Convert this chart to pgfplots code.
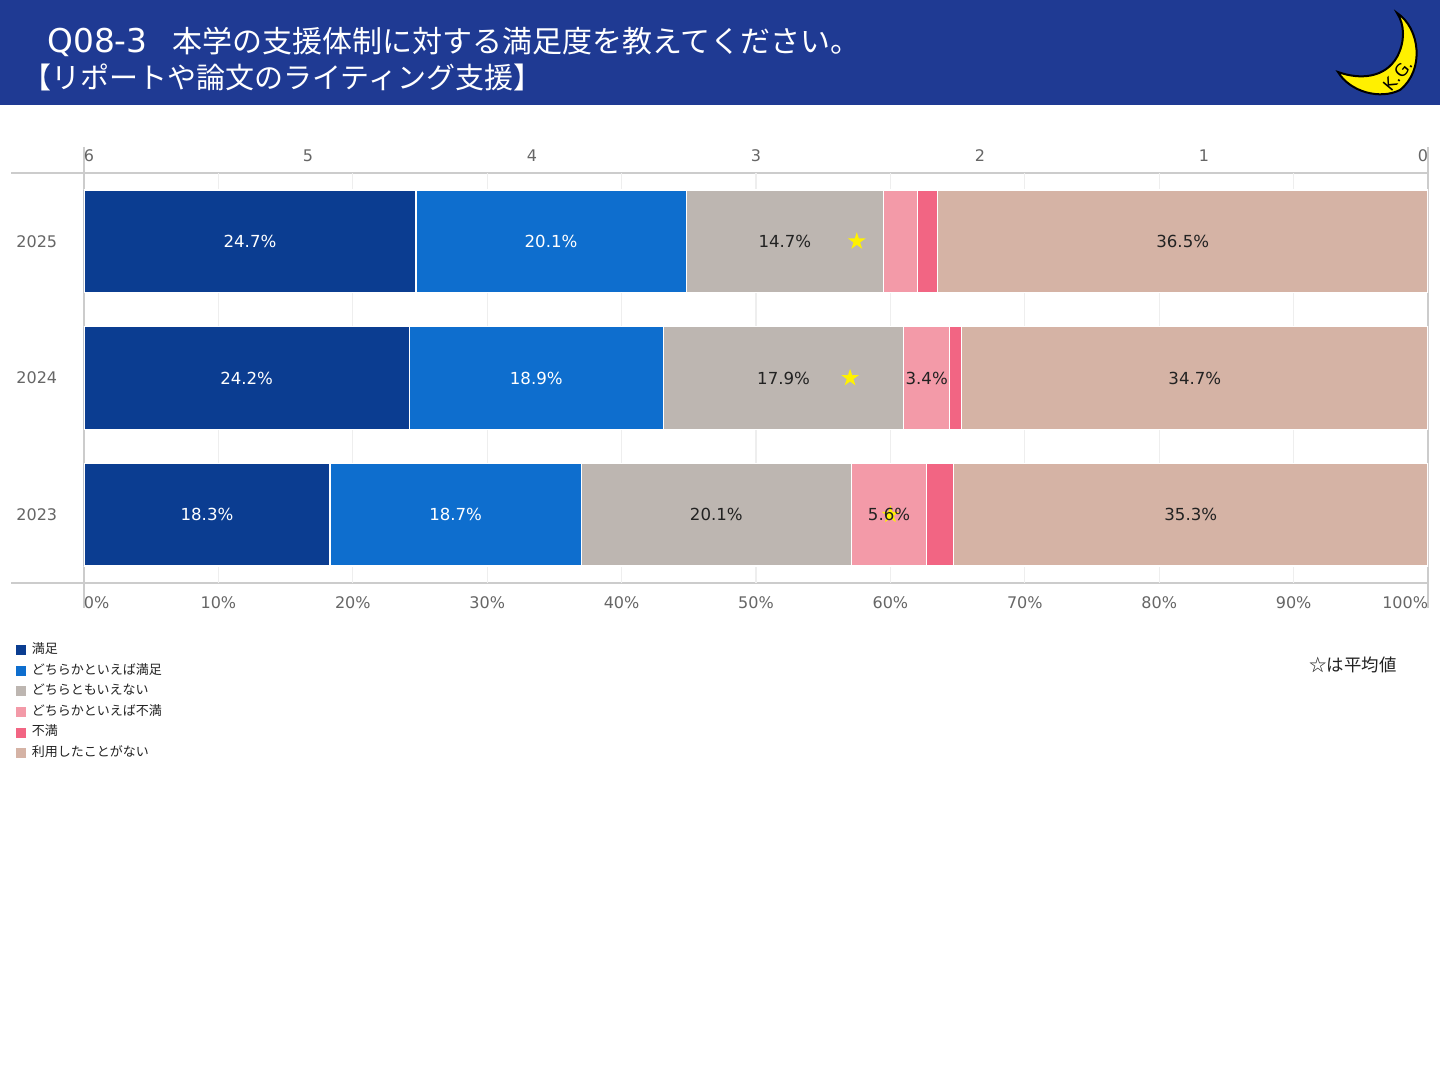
\documentclass[border=0pt]{standalone}
\usepackage{pgfplots}
\pgfplotsset{compat=1.18}
\usepackage{pgfplotstable}
\usepackage{fontspec}
\setmainfont{DejaVu Sans}
\newfontfamily\cjk{Noto Sans CJK JP}
\newfontfamily\dv{DejaVu Sans}

\definecolor{band}{HTML}{1F3A93}
\definecolor{c1}{HTML}{0B3D91}
\definecolor{c2}{HTML}{0E6ECE}
\definecolor{c3}{HTML}{BDB6B1}
\definecolor{c4}{HTML}{F39AA8}
\definecolor{c5}{HTML}{F26583}
\definecolor{c6}{HTML}{D5B3A5}
\definecolor{framegray}{HTML}{CCCCCC}
\definecolor{gridgray}{HTML}{EEEEEE}
\definecolor{ticktext}{HTML}{666666}
\definecolor{darktext}{HTML}{222222}
\definecolor{moonY}{HTML}{FFF000}
\definecolor{starY}{HTML}{FFF200}

\pgfdeclareplotmark{fstar}{%
 \pgfpathmoveto{\pgfpoint{0pt}{\pgfplotmarksize}}%
 \pgfpathlineto{\pgfpoint{0.2245\pgfplotmarksize}{0.309\pgfplotmarksize}}%
 \pgfpathlineto{\pgfpoint{0.951\pgfplotmarksize}{0.309\pgfplotmarksize}}%
 \pgfpathlineto{\pgfpoint{0.363\pgfplotmarksize}{-0.118\pgfplotmarksize}}%
 \pgfpathlineto{\pgfpoint{0.588\pgfplotmarksize}{-0.809\pgfplotmarksize}}%
 \pgfpathlineto{\pgfpoint{0pt}{-0.382\pgfplotmarksize}}%
 \pgfpathlineto{\pgfpoint{-0.588\pgfplotmarksize}{-0.809\pgfplotmarksize}}%
 \pgfpathlineto{\pgfpoint{-0.363\pgfplotmarksize}{-0.118\pgfplotmarksize}}%
 \pgfpathlineto{\pgfpoint{-0.951\pgfplotmarksize}{0.309\pgfplotmarksize}}%
 \pgfpathlineto{\pgfpoint{-0.2245\pgfplotmarksize}{0.309\pgfplotmarksize}}%
 \pgfpathclose\pgfusepathqfill}

% year index: 0=2023, 1=2024, 2=2025
\pgfplotstableread{
y s1 s2 s3 s4 s5 s6
0 18.3 18.7 20.1 5.6 2.0 35.3
1 24.2 18.9 17.9 3.4 0.9 34.7
2 24.7 20.1 14.7 2.5 1.5 36.5
}\shares

% average values (scale 6..0)
\pgfplotstableread{
y avg
0 2.40
1 2.58
2 2.55
}\averages

% label positions (segment mid points) for white labels
\pgfplotstableread{
x y v
12.35 2 24.7
34.75 2 20.1
12.10 1 24.2
33.65 1 18.9
9.15 0 18.3
27.65 0 18.7
}\labwhite

\pgfplotstableread{
x y v
52.15 2 14.7
81.75 2 36.5
52.05 1 17.9
62.70 1 3.4
82.65 1 34.7
47.05 0 20.1
59.90 0 5.6
82.35 0 35.3
}\labdark

\begin{document}
\begin{tikzpicture}
\begin{scope}[x=0.5pt,y=-0.5pt]
\fill[white] (0,0) rectangle (1440,1080);
\fill[band] (0,0) rectangle (1440,105);
\node[anchor=base west,inner sep=0pt,text=white,font=\dv\fontsize{16.4}{19}\selectfont] at (47,53) {Q08-3};
\node[anchor=base west,inner sep=0pt,text=white,font=\cjk\fontsize{15}{17}\selectfont] at (172,53) {本学の支援体制に対する満足度を教えてください。};
\node[anchor=base west,inner sep=0pt,text=white,font=\cjk\fontsize{14.5}{17}\selectfont] at (22,89) {【リポートや論文のライティング支援】};
% logo
\filldraw[fill=moonY,draw=black,line width=1pt] (1397,13) .. controls (1420,28) and (1425,70) .. (1400,90) .. controls (1380,100) and (1350,92) .. (1338,72) .. controls (1360,80) and (1385,78) .. (1397,57) .. controls (1405,42) and (1405,25) .. (1397,13) -- cycle;
\node[rotate=50,inner sep=0pt,font=\dv\fontsize{8.5}{10}\selectfont] at (1398,75) {K.G.};
% frame lines
\draw[framegray,line width=0.6pt] (11,173) -- (1428,173);
\draw[framegray,line width=0.6pt] (11,583) -- (1428,583);
\draw[framegray,line width=0.6pt] (84,147) -- (84,608);
\draw[framegray,line width=0.6pt] (1428,147) -- (1428,608);
\node[anchor=west,inner sep=0pt,text=darktext,font=\cjk\fontsize{8.7}{10}\selectfont] at (1309,665) {☆は平均値};
\end{scope}

\begin{axis}[
 at={(42pt,-291.5pt)}, anchor=south west,
 scale only axis, width=672pt, height=205pt,
 xbar stacked, bar width=0.75,
 xmin=0, xmax=100, ymin=-0.5, ymax=2.5,
 axis line style={draw=none},
 xtick={0,10,...,100},
 xticklabels={\makebox[0pt][l]{0\%},10\%,20\%,30\%,40\%,50\%,60\%,70\%,80\%,90\%,\makebox[0pt][r]{100\%}},
 minor xtick={10,20,...,90},
 xminorgrids, minor grid style={color=gridgray,line width=0.6pt},
 major tick length=0pt, minor tick length=0pt,
 ytick={0,1,2}, yticklabels={2023,2024,2025},
 tick label style={font=\dv\fontsize{8}{9.6}\selectfont, text=ticktext},
 xticklabel style={yshift=-3.5pt},
 yticklabel style={anchor=west, inner sep=0pt, xshift=-34pt},
 legend image code/.code={\fill[#1,draw=none] (0pt,-2.5pt) rectangle (5pt,2.5pt);},
 legend cell align=left,
 legend style={at={(-0.0506,-0.139)}, anchor=north west, draw=none, fill=none,
   inner sep=0pt, outer sep=0pt, row sep=0pt,
   font=\cjk\fontsize{6.5}{7.8}\selectfont, text=darktext,
   nodes={inner sep=0pt, text height=6.8pt, text depth=3.5pt},
   /tikz/every odd column/.append style={column sep=3pt}},
]
\addplot[fill=c1,draw=white,line width=0.6pt] table[x=s1,y=y] {\shares};
\addlegendentry{満足}
\addplot[fill=c2,draw=white,line width=0.6pt] table[x=s2,y=y] {\shares};
\addlegendentry{どちらかといえば満足}
\addplot[fill=c3,draw=white,line width=0.6pt] table[x=s3,y=y] {\shares};
\addlegendentry{どちらともいえない}
\addplot[fill=c4,draw=white,line width=0.6pt] table[x=s4,y=y] {\shares};
\addlegendentry{どちらかといえば不満}
\addplot[fill=c5,draw=white,line width=0.6pt] table[x=s5,y=y] {\shares};
\addlegendentry{不満}
\addplot[fill=c6,draw=white,line width=0.6pt] table[x=s6,y=y] {\shares};
\addlegendentry{利用したことがない}
\end{axis}

\begin{axis}[
 at={(42pt,-291.5pt)}, anchor=south west,
 scale only axis, width=672pt, height=205pt,
 xmin=0, xmax=6, x dir=reverse, ymin=-0.5, ymax=2.5,
 axis line style={draw=none},
 xticklabel pos=upper, ytick=\empty,
 xtick={0,1,2,3,4,5,6},
 xticklabels={\makebox[0pt][r]{0},1,2,3,4,5,\makebox[0pt][l]{6}},
 major tick length=0pt,
 tick label style={font=\dv\fontsize{8}{9.6}\selectfont, text=ticktext},
 xticklabel style={yshift=2.3pt},
]
\addplot[only marks, mark=fstar, mark size=4.6pt, color=starY] table[x=avg,y=y] {\averages};
\end{axis}

\begin{axis}[
 at={(42pt,-291.5pt)}, anchor=south west,
 scale only axis, width=672pt, height=205pt,
 xmin=0, xmax=100, ymin=-0.5, ymax=2.5,
 hide axis,
]
\addplot[only marks, mark=none, point meta=explicit symbolic,
  nodes near coords={\pgfplotspointmeta\%},
  every node near coord/.append style={anchor=center, inner sep=0pt, text=white, font=\dv\fontsize{8.3}{10}\selectfont}]
  table[x=x,y=y,meta=v] {\labwhite};
\addplot[only marks, mark=none, point meta=explicit symbolic,
  nodes near coords={\pgfplotspointmeta\%},
  every node near coord/.append style={anchor=center, inner sep=0pt, text=darktext, font=\dv\fontsize{8.3}{10}\selectfont}]
  table[x=x,y=y,meta=v] {\labdark};
\end{axis}
\end{tikzpicture}
\end{document}
